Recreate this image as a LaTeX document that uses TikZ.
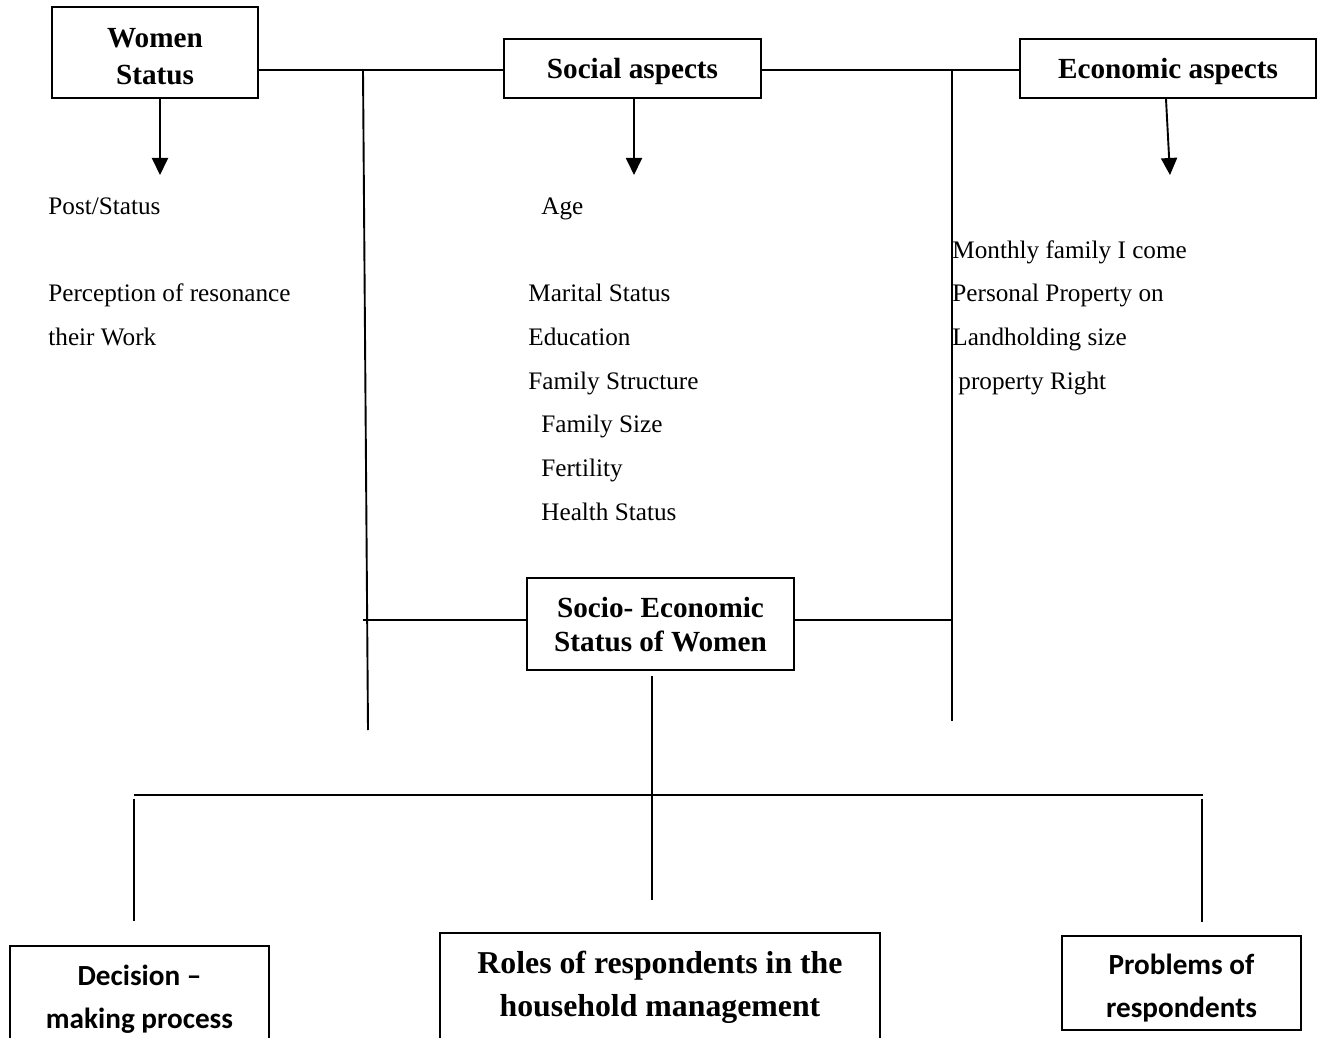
\documentclass[tikz,border=0pt]{standalone}
\usepackage{fontspec}
\setmainfont{Liberation Serif}
\newfontfamily\calib{Carlito}
\usetikzlibrary{arrows.meta}
\begin{document}
\begin{tikzpicture}[x=0.5pt,y=-0.5pt,
  ln/.style={line width=0.95pt},
  arr/.style={line width=0.95pt,-{Triangle[length=8.5pt,width=8pt]}},
  frame/.style={draw,line width=0.95pt,inner sep=0pt},
  htext/.style={inner sep=0pt,align=center,font=\bfseries\fontsize{14.6}{18.5}\selectfont},
  ctext/.style={inner sep=0pt,align=center,font=\calib\bfseries\fontsize{14.6}{21.5}\selectfont},
  item/.style={anchor=base west,inner sep=0pt,font=\fontsize{12.6}{15}\selectfont}]
\useasboundingbox (0,0) rectangle (1318,1038);
\clip (0,0) rectangle (1318,1038);

% top boxes
\node[frame,minimum width=103pt,minimum height=45.5pt] (women) at (155,52.5) {};
\node[htext] (womentext) at (155,56.5) {Women\\Status};
\node[frame,minimum width=128.5pt,minimum height=29.5pt] (social) at (632.5,68.5) {};
\node[htext] (socialtext) at (632.5,71.5) {Social aspects};
\node[frame,minimum width=148pt,minimum height=29.5pt] (econ) at (1168,68.5) {};
\node[htext] (econtext) at (1168,71.5) {Economic aspects};

% centre box
\node[frame,minimum width=133.5pt,minimum height=46pt] (socio) at (660.5,624) {};
\node[htext,font=\bfseries\fontsize{14.6}{17}\selectfont] (sociotext) at (660.5,625) {Socio- Economic\\Status of Women};

% bottom boxes
\node[frame,minimum width=129.5pt,minimum height=50pt] (dec) at (139.5,996) {};
\node[ctext] (dectext) at (139.5,999) {Decision –\\making process};
\node[frame,minimum width=220pt,minimum height=65pt,anchor=north] (roles) at (660,932) {};
\node[htext,font=\bfseries\fontsize{15.9}{21.5}\selectfont] (rolestext) at (660,987.5) {Roles of respondents in the\\household management};
\node[frame,minimum width=119.5pt,minimum height=47pt] (prob) at (1181.5,983) {};
\node[ctext] (probtext) at (1181.5,988.5) {Problems of\\respondents};

% coordinates
\coordinate (lvt) at (363,70);
\coordinate (lvb) at (368,730);
\coordinate (rvt) at (952,70);
\coordinate (rvb) at (952,721);
\coordinate (lh) at (363,620);
\coordinate (rh) at (952,620);
\coordinate (mvt) at (652,676);
\coordinate (mvb) at (652,900);
\coordinate (bl) at (134,795);
\coordinate (br) at (1203,795);
\coordinate (dlt) at (134,799);
\coordinate (dlb) at (134,921);
\coordinate (drt) at (1202,799);
\coordinate (drb) at (1202,922);
\coordinate (wa) at (160,175);
\coordinate (sa) at (634,175);
\coordinate (ea) at (1170,175);

% top connectors
\draw[ln] (women.east |- lvt) -- (social.west |- lvt);
\draw[ln] (social.east |- rvt) -- (econ.west |- rvt);
\draw[ln] (lvt) -- (lvb);
\draw[ln] (rvt) -- (rvb);
\draw[ln] (lh) -- (socio.west |- lh);
\draw[ln] (socio.east |- rh) -- (rh);

% arrows
\draw[arr] (women.south -| wa) -- (wa);
\draw[arr] (social.south -| sa) -- (sa);
\draw[arr] (econ.south -| 1166,0) -- (ea);

% bottom tree
\draw[ln] (mvt) -- (mvb);
\draw[ln] (bl) -- (br);
\draw[ln] (dlt) -- (dlb);
\draw[ln] (drt) -- (drb);

% lists
\node[item] (w1) at (48,214) {Post/Status};
\node[item] (w2) at (48,301) {Perception of resonance};
\node[item] (w3) at (48,345) {their Work};

\node[item] (s1) at (541,214) {Age};
\node[item] (s2) at (528,301) {Marital Status};
\node[item] (s3) at (528,345) {Education};
\node[item] (s4) at (528,389) {Family Structure};
\node[item] (s5) at (541,432) {Family Size};
\node[item] (s6) at (541,476) {Fertility};
\node[item] (s7) at (541,520) {Health Status};

\node[item] (e1) at (952,258) {Monthly family I come};
\node[item] (e2) at (952,301) {Personal Property on};
\node[item] (e3) at (952,345) {Landholding size};
\node[item] (e4) at (958,389) {property Right};
\end{tikzpicture}
\end{document}
